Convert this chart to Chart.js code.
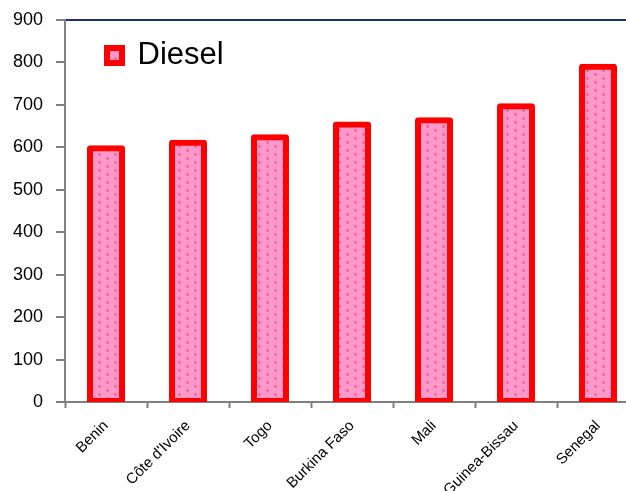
<!DOCTYPE html>
<html>
<head>
<meta charset="utf-8">
<script src="https://cdn.jsdelivr.net/npm/chart.js@4"></script>
<style>
    html, body { margin: 0; padding: 0; background: #ffffff; overflow: hidden; }
    #wrap { width: 642px; height: 520px; }
</style>
</head>
<body>
<div id="wrap"><canvas id="grafico-diesel" width="642" height="520"></canvas></div>
<script>
// Chart labels
const countries = ['Benin', "Côte d'Ivoire", 'Togo', 'Burkina Faso', 'Mali', 'Guinea-Bissau', 'Senegal'];
// Diesel values
const dieselPrices = [598, 611, 624, 654, 664, 697, 790];
const seriesName = 'Diesel';
const yMin = 0;
const yMax = 900;
const yStep = 100;

// dotted pink fill like the office chart
function dotPattern() {
    var c = document.createElement('canvas');
    c.width = 16;
    c.height = 8;
    var g = c.getContext('2d');
    g.fillStyle = '#ff99cc';
    g.fillRect(0, 0, 16, 8);
    [[3, 2], [11, 6]].forEach(function(p) {
        g.fillStyle = '#ff7aa8';
        g.fillRect(p[0] - 1, p[1] - 1, 3, 3);
        g.fillStyle = '#f22a55';
        g.fillRect(p[0], p[1], 1, 1);
    });
    return g.createPattern(c, 'repeat');
}

function graficoDiesel() {
    var ctx = document.getElementById('grafico-diesel');
    var fill = dotPattern();

    // move the legend a bit into the plot, like the original
    const legendShift = {
        id: 'legendShift',
        afterLayout: function(chart) {
            if (chart.legend) {
                chart.legend.left += 22;
                chart.legend.top = chart.chartArea.top;
            }
        }
    };

    const data = {
        labels: countries,
        datasets: [{
            label: seriesName,
            data: dieselPrices,
            backgroundColor: fill,
            borderColor: '#ff0000',
            borderWidth: 6,
            borderSkipped: false,
            borderRadius: 3,
            inflateAmount: 3,
            barThickness: 32
        }]
    };

    const config = {
        type: 'bar',
        data: data,
        options: {
            responsive: false,
            animation: false,
            devicePixelRatio: 1,
            layout: {
                padding: { top: 20, right: 3, bottom: 0, left: 0 }
            },
            plugins: {
                title: { display: false },
                tooltip: { enabled: false },
                legend: {
                    position: 'chartArea',
                    align: 'start',
                    labels: {
                        boxWidth: 15,
                        boxHeight: 15,
                        padding: 20,
                        color: '#000000',
                        font: { family: "'Liberation Sans', Arial, sans-serif", size: 31 }
                    }
                }
            },
            scales: {
                x: {
                    offset: true,
                    afterFit: function(scale) { scale.height = 118; },
                    border: { display: true, color: '#808080', width: 2 },
                    grid: {
                        offset: true,
                        drawOnChartArea: false,
                        drawTicks: true,
                        tickLength: 6,
                        tickColor: '#808080',
                        tickWidth: 2
                    },
                    ticks: {
                        autoSkip: false,
                        minRotation: 45,
                        maxRotation: 45,
                        padding: 9,
                        color: '#000000',
                        font: { family: "'Liberation Sans', Arial, sans-serif", size: 15 }
                    }
                },
                y: {
                    min: yMin,
                    max: yMax,
                    afterFit: function(scale) {
                        scale.width = 65;
                        scale.paddingTop = 0;
                        scale.paddingBottom = 0;
                    },
                    border: { display: true, color: '#808080', width: 2 },
                    grid: {
                        color: function(c) {
                            return c.tick && c.tick.value === yMax ? '#1f2f80' : 'rgba(0,0,0,0)';
                        },
                        lineWidth: 2,
                        tickLength: 9,
                        tickColor: '#808080',
                        tickWidth: 2
                    },
                    ticks: {
                        stepSize: yStep,
                        padding: 13,
                        color: '#000000',
                        font: { family: "'Liberation Sans', Arial, sans-serif", size: 18 }
                    }
                }
            }
        },
        plugins: [legendShift]
    };

    var myChart = new Chart(ctx, config);
}

graficoDiesel();
</script>
</body>
</html>
